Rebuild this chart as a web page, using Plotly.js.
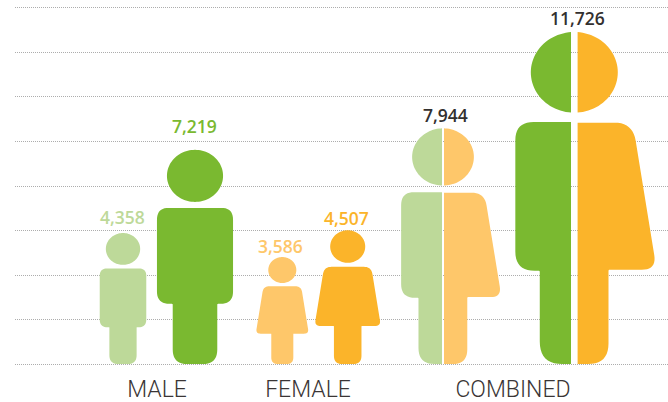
<!DOCTYPE html>
<html>
<head>
<meta charset="utf-8">
<script src="https://cdn.plot.ly/plotly-3.0.1.min.js"></script>
<style>html,body{margin:0;padding:0;background:#fff}#chart{width:668px;height:402px}</style>
</head>
<body>
<div id="chart"></div>
<script>
// ---- data ----
var groupLabels = ['MALE', 'FEMALE', 'COMBINED'];
var figureNames = ['Male child', 'Male adult', 'Female child', 'Female adult', 'Combined child', 'Combined adult'];
var labelValues = [4358, 7219, 3586, 4507, 7944, 11726];
var figureHeights = [4415, 7219, 3606, 4507, 7944, 11190]; // height each pictogram reaches on the y axis
var gridStep = 1500;
var axisTop = 12000;

// ---- layout and style ----
var groupCentres = [157, 308, 513];
var figureCentres = [123, 195, 282.3, 347.7, 443, 574.3];
var figureKinds = ['m', 'm', 'f', 'f', 'c', 'c'];
var splitGaps = [0, 0, 0, 0, 2, 6.6];
var labelDx = [-1, -1, -1.5, -1, 2, 3];
var labelLift = [16, 24, 11, 12, 13, 14];
var colours = ['#bdd999', '#7ab930', '#fec76a', '#fbb42a', null, null];
var splitColours = {4: ['#bdd999', '#fec76a'], 5: ['#7ab930', '#fbb42a']};
var labelColours = ['#bdd999', '#7ab930', '#fec76a', '#fbb42a', '#33302f', '#33302f'];

var pad = 100; // axis units kept beyond the first and last grid line so both are drawn
var plot = {l: 15, r: 0, t: 5, b: 35, w: 668, h: 402};
var pxPerUnit = (plot.h - plot.t - plot.b) / (axisTop + 2 * pad);

// body outlines: fractions of pictogram height; [halfWidth, height, cornerSize]
var maleBody = [[0,.729,0],[.1776,.729,.055],[.1776,.281,.058],[.104,.281,.004],[.104,0,.068],[0,0,0]];
var femaleBody = [[0,.727,0],[.176,.727,.055],[.248,.284,.045],[.103,.284,.004],[.103,0,.062],[0,0,0]];
var head = {rx: .131, ry: .1215, cy: .8785};

function roundedOutline(pts) {
  var out = [];
  pts.forEach(function (p, i) {
    if (!p[2]) { out.push([p[0], p[1]]); return; }
    var a = pts[i - 1], b = pts[i + 1];
    var la = Math.hypot(a[0] - p[0], a[1] - p[1]), lb = Math.hypot(b[0] - p[0], b[1] - p[1]);
    var s = [p[0] + (a[0] - p[0]) / la * p[2], p[1] + (a[1] - p[1]) / la * p[2]];
    var e = [p[0] + (b[0] - p[0]) / lb * p[2], p[1] + (b[1] - p[1]) / lb * p[2]];
    for (var k = 0; k <= 10; k++) {
      var t = k / 10, u = 1 - t;
      out.push([u*u*s[0] + 2*u*t*p[0] + t*t*e[0], u*u*s[1] + 2*u*t*p[1] + t*t*e[1]]);
    }
  });
  return out;
}

// one half of a split figure, with a central gap (dir = +1 right, -1 left)
function halfPolys(height, centre, gap, outline, dir) {
  var hPx = height * pxPerUnit, xs = [], ys = [], i;
  for (i = 0; i <= 48; i++) {
    var a = Math.PI * i / 48;
    xs.push(centre + dir * Math.max(Math.sin(a) * head.rx * hPx, gap / 2));
    ys.push((head.cy + Math.cos(a) * head.ry) * height);
  }
  xs.push(null); ys.push(null);
  roundedOutline(outline).forEach(function (p) {
    xs.push(centre + dir * Math.max(p[0] * hPx, gap / 2));
    ys.push(p[1] * height);
  });
  return {x: xs, y: ys};
}

// a whole figure, as two polygons without a seam
function wholePolys(height, centre, outline) {
  var hPx = height * pxPerUnit, xs = [], ys = [], i;
  for (i = 0; i <= 96; i++) {
    var a = 2 * Math.PI * i / 96;
    xs.push(centre + Math.sin(a) * head.rx * hPx);
    ys.push((head.cy + Math.cos(a) * head.ry) * height);
  }
  xs.push(null); ys.push(null);
  var half = roundedOutline(outline);
  half.forEach(function (p) { xs.push(centre + p[0] * hPx); ys.push(p[1] * height); });
  half.slice().reverse().forEach(function (p) { xs.push(centre - p[0] * hPx); ys.push(p[1] * height); });
  return {x: xs, y: ys};
}

function polyTrace(poly, colour, name) {
  return {type: 'scatter', mode: 'lines', x: poly.x, y: poly.y, fill: 'toself', fillcolor: colour,
    line: {width: 0, color: colour, simplify: false}, hoverinfo: 'skip', showlegend: false, name: name, connectgaps: false};
}

var traces = [];
figureNames.forEach(function (name, i) {
  var h = figureHeights[i], c = figureCentres[i], g = splitGaps[i], kind = figureKinds[i];
  if (kind === 'c') {
    traces.push(polyTrace(halfPolys(h, c, g, maleBody, -1), splitColours[i][0], name + ' (male)'));
    traces.push(polyTrace(halfPolys(h, c, g, femaleBody, 1), splitColours[i][1], name + ' (female)'));
  } else {
    traces.push(polyTrace(wholePolys(h, c, kind === 'm' ? maleBody : femaleBody), colours[i], name));
  }
});

var gridVals = [];
for (var v = 0; v <= axisTop; v += gridStep) gridVals.push(v);

var annotations = labelValues.map(function (val, i) {
  return {x: figureCentres[i] + labelDx[i], y: figureHeights[i], xref: 'x', yref: 'y',
    text: val.toLocaleString('en-US'), showarrow: false, xanchor: 'center', yanchor: 'middle', yshift: labelLift[i],
    font: {family: '"Open Sans", sans-serif', size: 17.5, weight: 600, color: labelColours[i]}};
});

var layout = {
  width: plot.w, height: plot.h,
  margin: {l: plot.l, r: plot.r, t: plot.t, b: plot.b, pad: 0},
  paper_bgcolor: '#fff', plot_bgcolor: '#fff', showlegend: false,
  xaxis: {range: [plot.l, plot.w - plot.r], showgrid: false, zeroline: false, showline: false, ticks: '',
    tickmode: 'array', tickvals: groupCentres, ticktext: groupLabels, fixedrange: true, ticklabelstandoff: 6,
    tickfont: {family: 'Roboto, "Open Sans", sans-serif', size: 23, weight: 300, color: '#3a3535'}},
  yaxis: {range: [-pad, axisTop + pad], showgrid: true, griddash: '1px,1px', gridcolor: '#adadad', gridwidth: 1,
    zeroline: false, showline: false, ticks: '', showticklabels: false, tickmode: 'array', tickvals: gridVals, fixedrange: true},
  annotations: annotations
};
Plotly.newPlot('chart', traces, layout, {displayModeBar: false, staticPlot: true});
</script>
</body>
</html>
